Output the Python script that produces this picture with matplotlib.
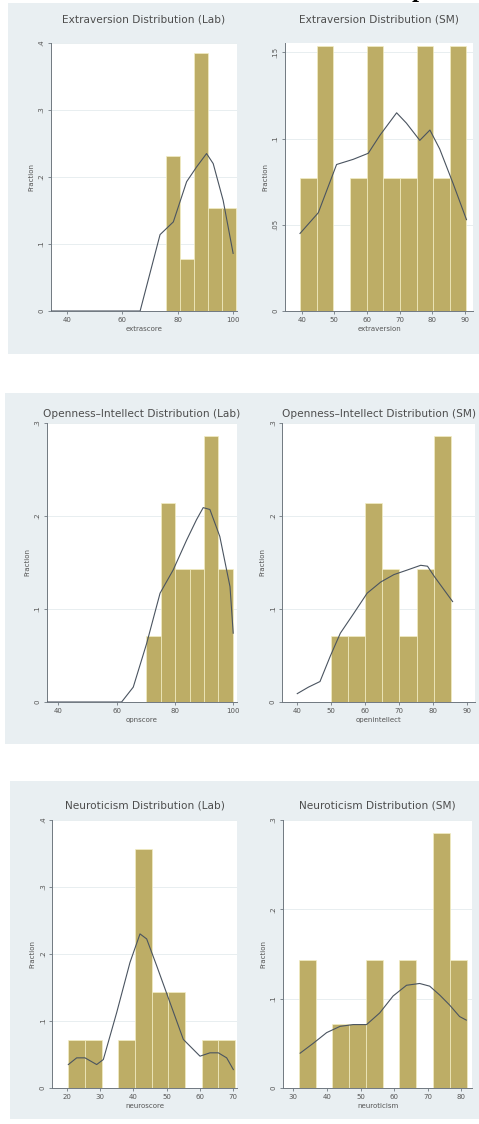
import numpy as np
import matplotlib
matplotlib.use('Agg')
import matplotlib.pyplot as plt
from matplotlib.patches import Rectangle
from matplotlib.ticker import FuncFormatter

# Histogram bins (edges) and counts per bin, KDE curves read as (x, y)
# Extraversion
extra_lab_edges = [75.7, 80.7, 85.8, 90.8, 95.9, 101.0]
extra_lab_counts = [3, 1, 5, 2, 2]
extra_lab_kde_x = [34, 66.4, 73.6, 78.4, 83.2, 86.8, 90.4, 92.8, 96.4, 100]
extra_lab_kde_y = [0, 0, 0.114, 0.133, 0.193, 0.215, 0.235, 0.22, 0.165, 0.086]

extra_sm_edges = [39.4, 44.6, 49.7, 54.8, 59.9, 65.0, 70.1, 75.2, 80.3, 85.4, 90.5]
extra_sm_counts = [1, 2, 0, 1, 2, 1, 1, 2, 1, 2]
extra_sm_kde_x = [39.5, 45.1, 50.7, 55.8, 60.4, 64, 69.1, 72.1, 76.2, 79.3, 82.3, 86.4, 90.5]
extra_sm_kde_y = [0.045, 0.057, 0.085, 0.088, 0.0915, 0.102, 0.115, 0.109, 0.099,
                  0.105, 0.094, 0.074, 0.053]

# Openness-Intellect
open_lab_edges = [70.2, 75.2, 80.1, 85.0, 89.9, 94.9, 99.8]
open_lab_counts = [1, 3, 2, 2, 4, 2]
open_lab_kde_x = [36, 61.7, 65.7, 70.3, 74.9, 79.4, 84, 87.4, 89.7, 92, 95.4, 98.9, 100]
open_lab_kde_y = [0, 0, 0.016, 0.063, 0.117, 0.142, 0.174, 0.196, 0.209, 0.207,
                  0.178, 0.124, 0.074]

open_sm_edges = [49.8, 54.9, 60.0, 65.0, 70.1, 75.2, 80.3, 85.4]
open_sm_counts = [1, 1, 3, 2, 1, 2, 4]
open_sm_kde_x = [40, 43.3, 46.7, 49.7, 52.7, 56.6, 60.6, 64.6, 68.5, 72.5, 76.4,
                 78.4, 80.4, 83.4, 85.8]
open_sm_kde_y = [0.009, 0.016, 0.022, 0.049, 0.074, 0.095, 0.117, 0.129, 0.137,
                 0.142, 0.147, 0.146, 0.135, 0.12, 0.108]

# Neuroticism
neuro_lab_edges = [20.5, 25.5, 30.5, 35.5, 40.5, 45.5, 50.5, 55.5, 60.5, 65.5, 70.5]
neuro_lab_counts = [1, 1, 0, 1, 5, 2, 2, 0, 1, 1]
neuro_lab_kde_x = [20.5, 23, 25.5, 29, 31, 35, 39, 42, 44, 47, 51, 55, 60, 63,
                   65.5, 68, 70]
neuro_lab_kde_y = [0.035, 0.045, 0.045, 0.035, 0.0425, 0.1125, 0.1875, 0.23, 0.2225,
                   0.1825, 0.1275, 0.0725, 0.0475, 0.0525, 0.0525, 0.045, 0.0275]

neuro_sm_edges = [31.6, 36.6, 41.6, 46.6, 51.6, 56.6, 61.6, 66.6, 71.6, 76.6, 81.6]
neuro_sm_counts = [2, 0, 1, 1, 2, 0, 2, 0, 4, 2]
neuro_sm_kde_x = [32, 35.9, 39.9, 43.9, 47.8, 51.8, 55.7, 59.7, 63.7, 67.6, 70.6,
                  73.6, 76.5, 79.5, 81.5]
neuro_sm_kde_y = [0.039, 0.05, 0.062, 0.069, 0.071, 0.071, 0.084, 0.103, 0.115,
                  0.117, 0.114, 0.104, 0.093, 0.08, 0.076]

W, H = 479, 1124
BG = '#e9eff2'
BAR = '#bdad66'
LINE = '#4a5460'
AXC = '#707880'

fig = plt.figure(figsize=(W / 100, H / 100), dpi=100)
fig.patch.set_facecolor('white')


def px_rect(x, y, w, h):
    # pixel box (top-left origin) -> figure fraction
    return [x / W, 1 - (y + h) / H, w / W, h / H]


# graph regions behind each pair of plots, on a bare full-figure axes
bg = fig.add_axes([0, 0, 1, 1], zorder=-1)
bg.set_xlim(0, W)
bg.set_ylim(H, 0)
bg.axis('off')
for x, y, w, h in [(8, 3, 471, 351), (5, 393, 474, 351), (10, 781, 469, 338)]:
    bg.add_patch(Rectangle((x, y), w, h, facecolor=BG, edgecolor='none'))


def frac_fmt(v, pos):
    if abs(v) < 1e-9:
        return '0'
    return ('%g' % round(v, 3)).lstrip('0')


def hist_panel(box, edges, counts, kde_x, kde_y, title, xlabel, xlim, ylim,
               yticks, xticks, tpad):
    ax = fig.add_axes(px_rect(*box), zorder=2)
    ax.set_facecolor('white')
    edges = np.array(edges)
    counts = np.array(counts, dtype=float)
    frac = counts / counts.sum()
    ax.bar(edges[:-1], frac, width=np.diff(edges), align='edge', color=BAR,
           edgecolor='#f3eec4', linewidth=0.5, zorder=2)
    ax.plot(kde_x, kde_y, color=LINE, lw=0.8, zorder=3)
    ax.set_xlim(*xlim)
    ax.set_ylim(*ylim)
    ax.set_yticks(yticks)
    ax.set_xticks(xticks)
    ax.yaxis.set_major_formatter(FuncFormatter(frac_fmt))
    ax.grid(axis='y', color='#e4ebee', lw=0.6, zorder=1)
    for s in ['top', 'right']:
        ax.spines[s].set_visible(False)
    for s in ['left', 'bottom']:
        ax.spines[s].set_color(AXC)
        ax.spines[s].set_linewidth(0.7)
    ax.tick_params(colors=AXC, labelcolor='#555555', labelsize=5, length=2.5,
                   width=0.6, pad=2)
    plt.setp(ax.get_yticklabels(), rotation=90, va='center')
    ax.set_ylabel('Fraction', fontsize=5, color='#555555', labelpad=3)
    ax.set_xlabel(xlabel, fontsize=5, color='#555555', labelpad=2)
    ax.set_title(title, fontsize=7.6, color='#4d4d4d', pad=tpad)
    return ax


hist_panel((51, 43, 186, 268), extra_lab_edges, extra_lab_counts,
           extra_lab_kde_x, extra_lab_kde_y, 'Extraversion Distribution (Lab)',
           'extrascore', (34.2, 101.4), (0, 0.4), [0, .1, .2, .3, .4],
           [40, 60, 80, 100], 15)
hist_panel((285, 43, 188, 268), extra_sm_edges, extra_sm_counts,
           extra_sm_kde_x, extra_sm_kde_y, 'Extraversion Distribution (SM)',
           'extraversion', (34.9, 92.5), (0, 0.1555), [0, .05, .1, .15],
           [40, 50, 60, 70, 80, 90], 15)

hist_panel((47, 423, 190, 279), open_lab_edges, open_lab_counts,
           open_lab_kde_x, open_lab_kde_y, 'Openness\u2013Intellect Distribution (Lab)',
           'opnscore', (36.1, 101.3), (0, 0.3), [0, .1, .2, .3],
           [40, 60, 80, 100], 4)
hist_panel((282, 423, 193, 279), open_sm_edges, open_sm_counts,
           open_sm_kde_x, open_sm_kde_y, 'Openness\u2013Intellect Distribution (SM)',
           'openintellect', (35.5, 92.4), (0, 0.3), [0, .1, .2, .3],
           [40, 50, 60, 70, 80, 90], 4)

hist_panel((52, 820, 185, 268), neuro_lab_edges, neuro_lab_counts,
           neuro_lab_kde_x, neuro_lab_kde_y, 'Neuroticism Distribution (Lab)',
           'neuroscore', (15.6, 71.1), (0, 0.4), [0, .1, .2, .3, .4],
           [20, 30, 40, 50, 60, 70], 8)
hist_panel((283, 820, 189, 268), neuro_sm_edges, neuro_sm_counts,
           neuro_sm_kde_x, neuro_sm_kde_y, 'Neuroticism Distribution (SM)',
           'neuroticism', (26.9, 83.2), (0, 0.3), [0, .1, .2, .3],
           [30, 40, 50, 60, 70, 80], 8)

# descender of a heading letter sitting just above the figure
fig.text(412 / W, 1.003, 'p', fontsize=18, family='Liberation Serif',
         weight='bold', color='black', ha='left', va='baseline')

fig.savefig('out.png', dpi=100, facecolor=fig.get_facecolor())
